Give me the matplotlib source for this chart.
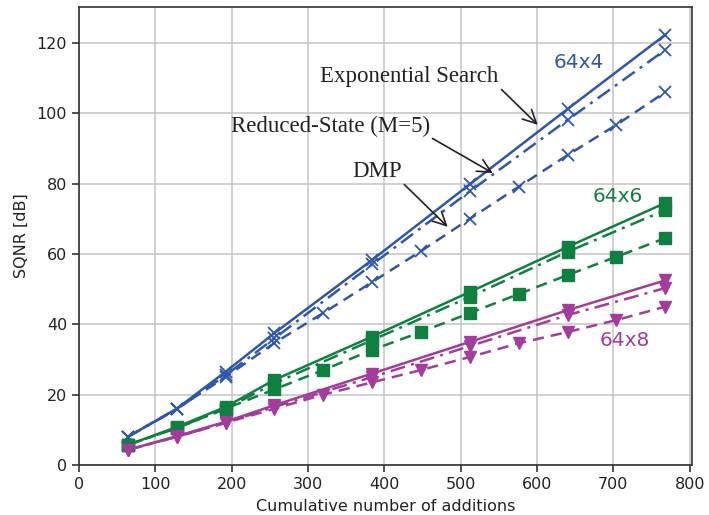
import matplotlib
matplotlib.use("Agg")
import matplotlib.pyplot as plt

# ---- data ----
x_exp = [64, 128, 192, 256, 384, 512, 640, 768]
x_dmp = [64, 128, 192, 256, 320, 384, 448, 512, 576, 640, 704, 768]

b_exp = [8, 16, 26.5, 37.5, 58.3, 79.8, 101.2, 122.3]
b_rs = [8, 15.8, 25.5, 36, 57, 77.8, 98.1, 118]
b_dmp = [8, 16, 25, 34.7, 43.2, 52, 60.8, 70, 79.1, 88.1, 96.7, 106]

g_exp = [5.7, 10.8, 16.5, 24.2, 36.5, 49.2, 62, 74.5]
g_rs = [5.7, 10.5, 16, 23.2, 35.5, 47.8, 60.6, 72.5]
g_dmp = [5.7, 10.5, 16, 21.5, 27, 32.7, 37.8, 43.2, 48.6, 54, 59.2, 64.5]

m_exp = [4.3, 8.2, 12.3, 17, 26, 35, 44, 52.5]
m_rs = [4.3, 8, 12, 16.5, 25, 33.8, 42.6, 50.3]
m_dmp = [4.3, 8, 12, 16, 20, 23.5, 27, 30.7, 34.6, 37.8, 41.2, 45]

xticks = [0, 100, 200, 300, 400, 500, 600, 700, 800]
yticks = [0, 20, 40, 60, 80, 100, 120]

blue = '#2E56AC'
green = '#0F8040'
mag = '#A23D9B'

fig = plt.figure(figsize=(7.09, 5.15), dpi=100)
ax = fig.add_axes([0.1114, 0.0971, 0.8646, 0.8893])

lw = 1.8
dash = (0, (4.5, 2.8))
dashdot = (0, (6, 2.5, 1.2, 2.5))

for col, mk, ms, ye, yr, yd in [
        (blue, 'x', 9, b_exp, b_rs, b_dmp),
        (green, 's', 8, g_exp, g_rs, g_dmp),
        (mag, 'v', 8.5, m_exp, m_rs, m_dmp)]:
    kw = dict(color=col, marker=mk, markersize=ms, lw=lw, markeredgewidth=1.3 if mk == 'x' else 1.0)
    ax.plot(x_exp, ye, linestyle='-', **kw)
    ax.plot(x_exp, yr, linestyle=dashdot, **kw)
    ax.plot(x_dmp, yd, linestyle=dash, **kw)

ax.set_xlim(0, 803)
ax.set_ylim(0, 130.2)
ax.set_xticks(xticks)
ax.set_yticks(yticks)
ax.grid(True, color='#c8c8c8', lw=1.2)
ax.set_axisbelow(True)
for s in ax.spines.values():
    s.set_color('#333333')
    s.set_linewidth(1.2)
ax.tick_params(labelsize=11.5, colors='#222222', length=5, width=1.1)
ax.set_xlabel('Cumulative number of additions', fontsize=11.5, color='#222222', labelpad=5)
ax.set_ylabel('SQNR [dB]', fontsize=11.5, color='#222222', labelpad=6)

serif = ['Liberation Serif', 'DejaVu Serif']
akw = dict(arrowstyle='->', color='#222222', lw=1.2, mutation_scale=24)
ax.annotate('Exponential Search', xy=(601, 96.7), xytext=(433, 110.5),
            ha='center', va='center', fontsize=16.5, family=serif, color='#222222',
            arrowprops=dict(**akw, shrinkA=0, shrinkB=0, relpos=(1.0, 0.0)))
ax.annotate('Reduced-State (M=5)', xy=(542, 83), xytext=(329, 96.3),
            ha='center', va='center', fontsize=16.5, family=serif, color='#222222',
            arrowprops=dict(**akw, shrinkA=0, shrinkB=0, relpos=(1.0, 0.0)))
ax.annotate('DMP', xy=(483, 67.7), xytext=(390, 83.5),
            ha='center', va='center', fontsize=16.5, family=serif, color='#222222',
            arrowprops=dict(**akw, shrinkA=0, shrinkB=0, relpos=(1.0, 0.0)))

ax.text(655, 114.5, '64x4', color=blue, fontsize=14.5, ha='center', va='center')
ax.text(706, 76.3, '64x6', color=green, fontsize=14.5, ha='center', va='center')
ax.text(715, 35.3, '64x8', color=mag, fontsize=14.5, ha='center', va='center')

fig.savefig('out.png', dpi=100)
